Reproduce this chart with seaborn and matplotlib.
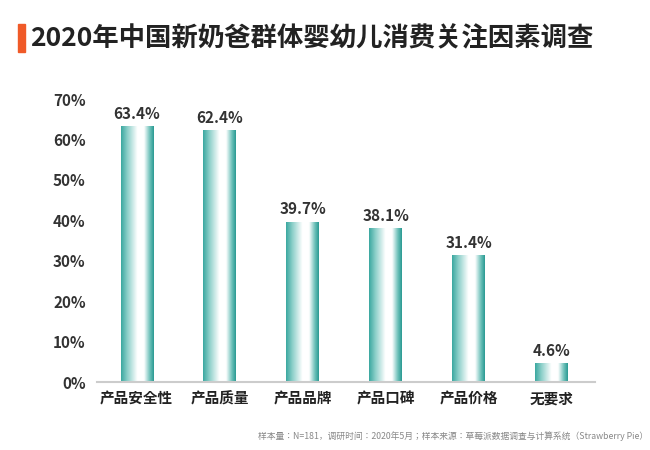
import numpy as np
import pandas as pd
import matplotlib
matplotlib.use("Agg")
import matplotlib.pyplot as plt
from matplotlib.colors import LinearSegmentedColormap
from matplotlib.patches import Rectangle
import seaborn as sns

plt.rcParams["font.family"] = ["Noto Sans CJK JP"]

categories = ["产品安全性", "产品质量", "产品品牌", "产品口碑", "产品价格", "无要求"]
values = [63.4, 62.4, 39.7, 38.1, 31.4, 4.6]
yticks = [0, 10, 20, 30, 40, 50, 60, 70]

df = pd.DataFrame({"cat": categories, "val": values})

fig = plt.figure(figsize=(6.5, 4.5), dpi=100)
ax = fig.add_axes([0.149, 0.151, 0.766, 0.629])
sns.barplot(data=df, x="cat", y="val", ax=ax, width=0.39, color="#3aa8a0")

cmap = LinearSegmentedColormap.from_list("g", [(0, "#3aa8a0"), (0.2, "#8ed0ca"),
                                               (0.5, "#ffffff"), (0.7, "#ffffff"),
                                               (0.88, "#6cc0b9"), (1, "#2a9a92")])
grad = np.linspace(0, 1, 256).reshape(1, -1)
for p, v in zip(ax.patches, values):
    x0, w, h = p.get_x(), p.get_width(), p.get_height()
    p.set_facecolor("none")
    im = ax.imshow(grad, cmap=cmap, aspect="auto", extent=[x0, x0 + w, 0, h], zorder=2)
    im.set_clip_path(p)
    ax.text(x0 + w / 2, h + 1.0, f"{v}%", ha="center", va="bottom",
            fontsize=11, fontweight="bold", color="#333333")

ax.set_xlim(-0.48, 5.52)
ax.set_ylim(0, 70)
ax.set_yticks(yticks)
ax.set_yticklabels([f"{t}%" for t in yticks], fontsize=11, fontweight="bold", color="#333333")
ax.tick_params(axis="x", labelsize=10.5, colors="#222222", length=0, pad=6)
ax.tick_params(axis="y", length=0, pad=8)
for lab in ax.get_xticklabels():
    lab.set_fontweight("bold")
ax.set_xlabel("")
ax.set_ylabel("")
for s in ["top", "right", "left"]:
    ax.spines[s].set_visible(False)
ax.spines["bottom"].set_color("#cccccc")
ax.spines["bottom"].set_linewidth(1.5)

fig.patches.append(Rectangle((0.028, 0.885), 0.01, 0.062, transform=fig.transFigure,
                             color="#f05a28"))
fig.text(0.046, 0.913, "2020年中国新奶爸群体婴幼儿消费关注因素调查", fontsize=19,
         fontweight="bold", color="#222222", va="center")
fig.text(0.997, 0.025, "样本量：N=181，调研时间：2020年5月；样本来源：草莓派数据调查与计算系统（Strawberry Pie）",
         fontsize=6.3, color="#888888", ha="right")

fig.savefig("out.png", dpi=100)
